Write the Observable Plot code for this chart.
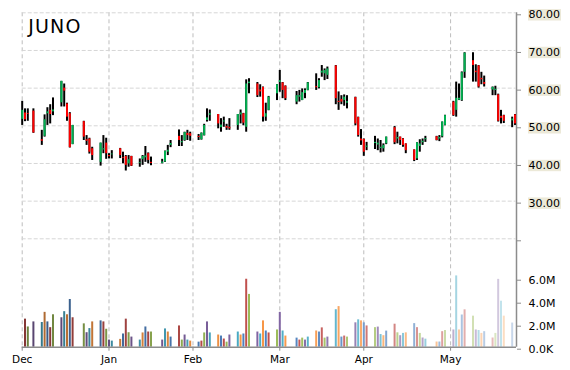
<!DOCTYPE html>
<html><head><meta charset="utf-8">
<script src="https://cdn.jsdelivr.net/npm/d3@7"></script>
<script src="https://cdn.jsdelivr.net/npm/@observablehq/plot@0.6"></script>
<style>
html,body{margin:0;padding:0;background:#fff;}
#chart{position:relative;width:570px;height:370px;overflow:hidden;background:#fff;}
#chart svg{position:absolute;left:0;top:0;}
</style></head><body><div id="chart"></div>
<script>
const title = "JUNO";
const dates = [
"2014-12-01","2014-12-02","2014-12-03","2014-12-05","2014-12-08","2014-12-09","2014-12-10","2014-12-11","2014-12-12","2014-12-15","2014-12-16","2014-12-17","2014-12-18","2014-12-19","2014-12-23","2014-12-24","2014-12-25","2014-12-26","2014-12-29","2014-12-30","2014-12-31",
"2015-01-01","2015-01-02","2015-01-05","2015-01-06","2015-01-07","2015-01-08","2015-01-09","2015-01-12","2015-01-13","2015-01-14","2015-01-15","2015-01-16","2015-01-20","2015-01-21","2015-01-22","2015-01-23","2015-01-26","2015-01-27","2015-01-28","2015-01-29","2015-01-30",
"2015-02-02","2015-02-03","2015-02-04","2015-02-05","2015-02-06","2015-02-09","2015-02-10","2015-02-11","2015-02-12","2015-02-13","2015-02-16","2015-02-17","2015-02-18","2015-02-19","2015-02-20","2015-02-23","2015-02-24","2015-02-25","2015-02-26","2015-02-27",
"2015-03-02","2015-03-03","2015-03-04","2015-03-05","2015-03-09","2015-03-10","2015-03-11","2015-03-12","2015-03-13","2015-03-16","2015-03-17","2015-03-18","2015-03-19","2015-03-20","2015-03-23","2015-03-24","2015-03-25","2015-03-26","2015-03-27","2015-03-30","2015-03-31",
"2015-04-01","2015-04-02","2015-04-03","2015-04-06","2015-04-07","2015-04-08","2015-04-09","2015-04-10","2015-04-13","2015-04-14","2015-04-15","2015-04-16","2015-04-17","2015-04-20","2015-04-21","2015-04-22","2015-04-23","2015-04-24","2015-04-28","2015-04-29","2015-04-30",
"2015-05-01","2015-05-04","2015-05-05","2015-05-06","2015-05-07","2015-05-08","2015-05-11","2015-05-12","2015-05-13","2015-05-14","2015-05-15","2015-05-18","2015-05-19","2015-05-20","2015-05-21","2015-05-22","2015-05-25","2015-05-26"];
const open = [51.7,53.4,53.2,53.9,46.3,47.2,53.2,54.1,53.7,56.1,60.0,55.8,53.2,45.0,51.1,46.3,46.5,43.9,40.3,43.6,45.4,
42.1,42.3,43.9,41.5,41.85,39.9,41.85,40.0,41.0,41.5,42.6,40.3,40.0,40.4,43.0,44.8,47.2,45.5,46.1,48.0,47.9,
47.2,46.3,47.4,51.4,52.8,53.0,49.5,51.0,49.8,49.6,50.1,52.9,53.2,49.6,61.2,61.1,59.5,60.2,52.3,54.1,
58.5,61.5,61.4,60.5,56.3,57.6,56.7,58.6,59.4,60.4,60.1,64.0,63.8,63.4,65.9,56.5,57.0,56.7,56.0,57.5,52.2,
46.5,46.4,44.3,45.3,44.9,44.0,43.9,45.2,49.5,46.5,47.0,46.5,45.2,43.6,41.2,44.5,45.5,46.3,47.1,46.5,47.1,
50.1,56.3,54.1,56.8,56.7,64.2,67.3,64.5,65.9,62.6,61.5,59.5,59.4,58.2,52.5,52.7,51.3,52.9];
const high = [56.5,54.5,54.5,54.5,48.8,52.9,54.8,55.6,57.4,61.8,61.1,56.0,53.5,50.1,51.2,47.4,46.7,44.3,45.4,47.4,46.7,
42.6,43.4,44.0,43.0,42.1,42.1,41.9,41.2,42.1,44.5,42.8,41.7,41.1,43.3,44.8,46.1,48.9,47.4,48.3,48.8,48.3,
47.7,48.1,50.4,54.5,54.2,53.0,51.9,52.3,50.4,51.9,53.0,54.2,53.3,62.2,62.5,61.5,60.9,60.3,56.0,57.8,
60.9,64.7,61.5,60.6,59.1,59.4,59.8,59.8,61.5,63.8,62.5,66.0,65.1,65.6,66.0,59.0,58.0,58.2,58.0,57.6,52.3,
49.0,46.5,45.6,47.2,46.5,46.1,45.2,47.0,49.8,48.3,47.0,46.6,45.2,43.6,45.5,46.3,46.5,47.2,47.2,47.4,51.0,
52.8,56.5,61.6,61.1,64.3,69.4,69.4,66.2,66.0,64.2,63.2,60.3,60.5,58.4,54.1,52.8,52.3,53.0];
const low = [50.1,51.1,51.2,48.0,44.8,47.0,50.1,50.5,52.7,55.0,55.0,51.2,44.1,45.0,46.1,44.8,42.5,40.8,39.3,42.6,41.1,
41.2,41.2,41.3,39.9,38.0,39.0,39.2,39.0,39.5,40.3,39.9,39.4,39.9,40.3,42.1,44.2,44.5,44.5,45.9,46.1,45.9,
46.1,46.2,47.3,51.0,51.2,49.2,48.3,49.6,48.8,48.8,48.8,50.5,50.0,48.3,58.5,57.5,57.6,51.0,51.2,54.0,
56.7,58.9,57.2,56.7,55.6,56.3,56.7,57.2,59.3,59.4,59.8,62.9,62.0,62.3,55.6,54.1,55.6,55.2,54.5,50.0,47.0,
44.8,41.9,43.4,43.7,43.4,42.8,43.0,45.0,45.0,45.2,44.8,44.3,42.6,40.5,40.8,43.0,44.8,45.6,46.0,45.8,46.8,
50.0,52.5,52.3,56.7,56.5,62.6,61.6,61.6,60.0,60.9,60.3,58.0,58.0,51.0,50.5,50.6,49.5,50.1];
const close = [54.1,51.6,53.0,48.1,45.9,51.6,53.7,53.0,54.2,61.8,59.2,52.3,44.2,50.1,47.0,45.9,43.0,42.1,45.4,43.9,42.6,
41.8,42.5,42.1,41.3,39.5,41.0,39.3,40.2,41.85,42.0,40.8,40.0,40.4,43.2,43.5,45.3,46.1,45.8,48.2,47.4,47.2,
46.9,48.0,50.1,52.1,53.2,50.5,50.2,51.3,49.4,49.2,53.0,53.4,50.7,61.1,61.6,58.0,59.0,52.3,53.2,57.6,
60.9,62.0,59.4,57.2,58.0,58.0,58.8,59.4,61.4,60.1,62.0,64.5,64.7,65.1,57.2,56.2,56.3,57.6,56.4,50.5,47.4,
46.0,43.0,44.6,45.6,45.4,44.3,44.8,47.0,45.5,46.9,46.1,44.8,43.4,40.8,45.5,45.2,45.9,46.6,46.1,46.9,51.0,
52.7,52.7,57.3,57.3,64.1,69.3,66.0,64.1,60.3,62.2,61.0,60.2,59.7,51.2,52.0,51.2,51.8,50.5];
// volume in millions of shares
const volume = [0,2.44,1.76,2.2,2.15,3.03,2.2,1.7,2.82,2.56,3.09,2.82,4.15,2.56,2.03,1.26,1.62,2.2,2.29,2.2,1.56,
0.62,0.53,0.68,1.15,2.44,1.26,0.88,0.62,1.24,1.76,1.32,1.32,0.62,1.59,1.32,0.88,1.85,0.62,1.06,0.62,0.53,
0.44,0.53,1.24,2.2,1.24,1.06,0.97,0.71,0.44,1.06,1.32,1.06,1.15,5.91,4.59,1.32,1.15,2.29,1.41,1.24,
1.5,3.03,1.41,0.97,0.79,0.62,0.79,0.62,0.88,1.41,1.32,1.68,0.79,0.88,3.26,3.53,0.88,0.97,0.88,2.12,2.38,
2.29,2.12,1.85,1.7,1.75,1.1,1.0,1.4,2.0,1.25,1.0,1.2,1.25,2.05,1.7,1.2,0.8,0.7,0.45,0.45,1.35,
1.45,1.5,6.2,1.5,2.8,3.25,2.7,1.5,1.45,1.2,1.35,0.8,1.2,5.9,4.0,2.7,2.1,0];
const priceTicks = [20,30,40,50,60,70,80];
const volumeTicks = [0,2,4,6];
const volumeTickLabels = ["0.0K","2.0M","4.0M","6.0M"];
const monthTickDates = ["2014-12-01","2015-01-01","2015-01-31","2015-03-03","2015-04-02","2015-05-03"];
const monthLabels = ["Dec","Jan","Feb","Mar","Apr","May"];
const officePalette = ["#4F81BD","#C0504D","#9BBB59","#8064A2","#4BACC6","#F79646"];

const n = dates.length;
function barColor(i) {
  const base = officePalette[i % officePalette.length];
  const t = i / (n - 1);
  if (t < 0.45) return d3.interpolateRgb(base, "#000")(0.32 * (1 - t / 0.45));
  if (t > 0.5) return d3.interpolateRgb(base, "#fff")(0.7 * Math.pow((t - 0.5) / 0.5, 1.2));
  return base;
}
const rows = dates.map((d, i) => ({
  date: new Date(d), open: open[i], high: high[i], low: low[i], close: close[i],
  volume: volume[i], vColor: barColor(i),
  body: close[i] >= open[i] ? "#00B050" : "#FF0000"
}));
const monthTicks = monthTickDates.map(d => new Date(d));
const xDomain = [new Date("2014-12-01"), new Date("2015-05-26T13:00:00Z")];
const axisGray = "#8c8c8c";
const common = {
  width: 570, height: 370, marginLeft: 21.7, marginRight: 54,
  style: {background: "transparent", fontFamily: "DejaVu Sans", fontSize: "11px", color: "#000", overflow: "visible"}
};

const volPlot = Plot.plot({
  ...common,
  marginTop: 12.3, marginBottom: 23.3,
  x: {type: "utc", domain: xDomain, label: null},
  y: {domain: [0, 29.08], label: null},
  color: {type: "identity"},
  marks: [
    Plot.ruleX(monthTicks, {stroke: "#bdbdbd", strokeDasharray: "4,3", strokeWidth: 1}),
    Plot.ruleX(rows.filter(d => d.volume > 0), {x: "date", y1: 0, y2: "volume", stroke: "vColor", strokeWidth: 2}),
    Plot.ruleY([0], {stroke: axisGray, strokeWidth: 1.5}),
    Plot.ruleX([xDomain[1]], {y1: 0, y2: 29.08, stroke: axisGray, strokeWidth: 1.5}),
    Plot.axisX(monthTicks, {tickSize: 4, tickPadding: 4, stroke: axisGray, fontSize: 10.5, label: null,
      tickFormat: d => monthLabels[monthTicks.findIndex(t => +t === +d)]}),
    Plot.axisY(volumeTicks, {anchor: "right", tickSize: 4, tickPadding: 8, stroke: axisGray, dy: 2, fontSize: 11, label: null,
      tickFormat: d => volumeTickLabels[volumeTicks.indexOf(d)]})
  ]
});

const pricePlot = Plot.plot({
  ...common,
  marginTop: 12.3, marginBottom: 131.7,
  x: {type: "utc", domain: xDomain, axis: null},
  y: {domain: [20, 80], label: null},
  color: {type: "identity"},
  marks: [
    Plot.ruleY(priceTicks, {stroke: "#d6d6d6", strokeDasharray: "4,2", strokeWidth: 1}),
    Plot.ruleX(rows, {x: "date", y1: "low", y2: "high", stroke: "#000", strokeWidth: 2}),
    Plot.ruleX(rows, {x: "date", y1: "open", y2: "close", stroke: "body", strokeWidth: 2}),
    Plot.axisY(priceTicks, {anchor: "right", tickSize: 4, tickPadding: 8, stroke: axisGray, dy: 2, fontSize: 11, label: null,
      tickFormat: d => d === priceTicks[0] ? "" : d.toFixed(2)}),
    Plot.text([title], {frameAnchor: "top-left", dx: 6, dy: 7, lineAnchor: "top", fontSize: 19, fill: "#000"})
  ]
});

const chart = document.getElementById("chart");
chart.append(volPlot, pricePlot);

// beige background boxes behind the price labels
pricePlot.querySelectorAll('g[aria-label="y-axis tick label"] text').forEach(t => {
  if (!t.textContent) return;
  const b = t.getBBox();
  const r = document.createElementNS("http://www.w3.org/2000/svg", "rect");
  r.setAttribute("x", b.x - 0.5);
  r.setAttribute("y", b.y + 0.8);
  r.setAttribute("width", b.width + 1.5);
  r.setAttribute("height", b.height - 1.6);
  r.setAttribute("fill", "#ECE9D8");
  r.setAttribute("stroke", "none");
  const tr = t.getAttribute("transform");
  if (tr) r.setAttribute("transform", tr);
  t.parentNode.insertBefore(r, t);
});
pricePlot.querySelectorAll('g[aria-label="text"] text').forEach(t => t.style.letterSpacing = "1.2px");
</script></body></html>
